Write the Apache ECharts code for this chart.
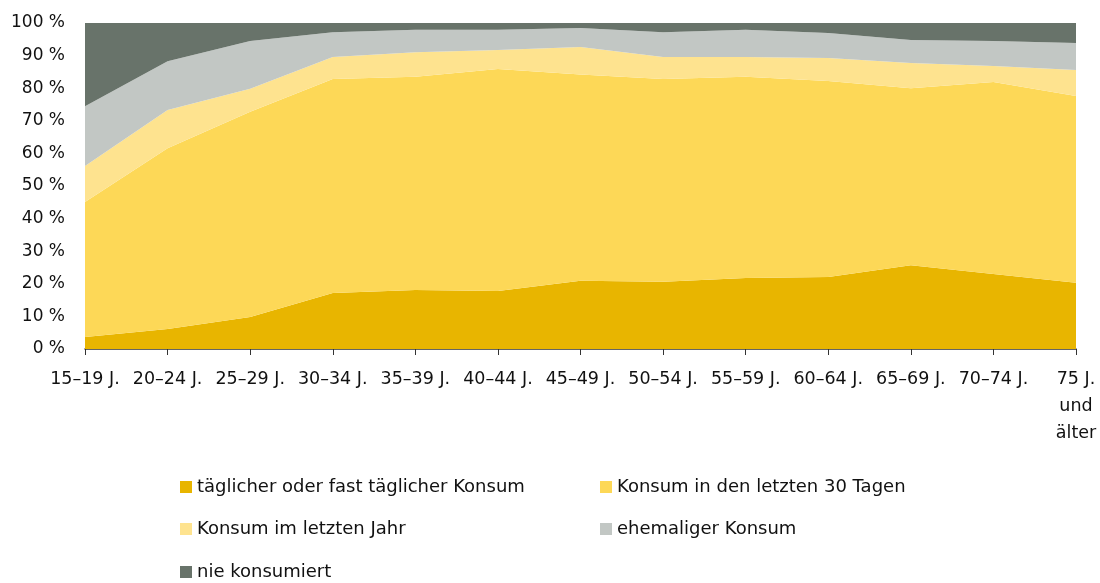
<!DOCTYPE html>
<html>
<head>
<meta charset="utf-8">
<script src="https://cdn.jsdelivr.net/npm/echarts@6/dist/echarts.min.js"></script>
<style>
  html, body { margin: 0; padding: 0; background: #fff; }
  #main { width: 1100px; height: 583px; }
</style>
</head>
<body>
<div id="main"></div>
<script>
// Altersgruppen
var categories = ['15–19 J.', '20–24 J.', '25–29 J.', '30–34 J.', '35–39 J.', '40–44 J.', '45–49 J.',
  '50–54 J.', '55–59 J.', '60–64 J.', '65–69 J.', '70–74 J.', '75 J.\nund\nälter'];

// Anteile in %, gestapelt
var taeglich = [3.7, 6.1, 9.8, 17.2, 18.1, 17.8, 20.9, 20.6, 21.8, 22.1, 25.7, 23.0, 20.3];
var letzte30 = [41.4, 55.5, 63.0, 65.6, 65.4, 68.1, 63.3, 62.2, 61.7, 60.1, 54.3, 58.9, 57.3];
var letztesJahr = [11.0, 11.7, 7.0, 6.8, 7.5, 5.8, 8.4, 6.8, 6.1, 7.1, 7.7, 4.9, 8.0];
var ehemalig = [18.4, 15.0, 14.7, 7.6, 6.9, 6.2, 5.9, 7.6, 8.3, 7.6, 7.1, 7.7, 8.3];
var nie = [25.5, 11.7, 5.5, 2.8, 2.1, 2.1, 1.5, 2.8, 2.1, 3.1, 5.2, 5.5, 6.1];

var names = ['täglicher oder fast täglicher Konsum', 'Konsum in den letzten 30 Tagen',
  'Konsum im letzten Jahr', 'ehemaliger Konsum', 'nie konsumiert'];
var colors = ['#e8b500', '#fdd857', '#fee38f', '#c2c7c4', '#68736a'];
var values = [taeglich, letzte30, letztesJahr, ehemalig, nie];

var font = '"DejaVu Sans", sans-serif';

var series = [];
for (var i = 0; i < values.length; i++) {
  series.push({
    name: names[i],
    type: 'line',
    stack: 'total',
    data: values[i],
    showSymbol: false,
    lineStyle: { width: 0 },
    areaStyle: { color: colors[i], opacity: 1 },
    itemStyle: { color: colors[i] },
    emphasis: { disabled: true },
    animation: false
  });
}

// Legende: 2 Spalten, 3 Zeilen
var legendPos = [[180, 478], [600, 478], [180, 520], [600, 520], [180, 563]];
var legends = names.map(function (n, i) {
  return {
    data: [n],
    left: legendPos[i][0], top: legendPos[i][1],
    padding: 0,
    itemWidth: 12, itemHeight: 12,
    icon: 'rect',
    textStyle: { fontSize: 18, color: '#111', fontFamily: font }
  };
});

var myChart = echarts.init(document.getElementById('main'));
var option = {
  animation: false,
  grid: { left: 85, right: 24, top: 23, bottom: 234, containLabel: false },
  legend: legends,
  xAxis: {
    type: 'category',
    data: categories,
    boundaryGap: false,
    axisLine: { lineStyle: { color: '#333', width: 1.5 } },
    axisTick: { alignWithLabel: true, length: 6, lineStyle: { color: '#333' } },
    axisLabel: {
      interval: 0,
      color: '#111',
      fontSize: 17.5,
      fontFamily: font,
      lineHeight: 27,
      margin: 17
    }
  },
  yAxis: {
    type: 'value',
    min: 0, max: 100, interval: 10,
    axisLine: { show: false },
    axisTick: { show: false },
    splitLine: { show: false },
    axisLabel: {
      color: '#111',
      fontSize: 17,
      fontFamily: font,
      margin: 20,
      formatter: '{value} %'
    }
  },
  series: series
};
myChart.setOption(option);
</script>
</body>
</html>
